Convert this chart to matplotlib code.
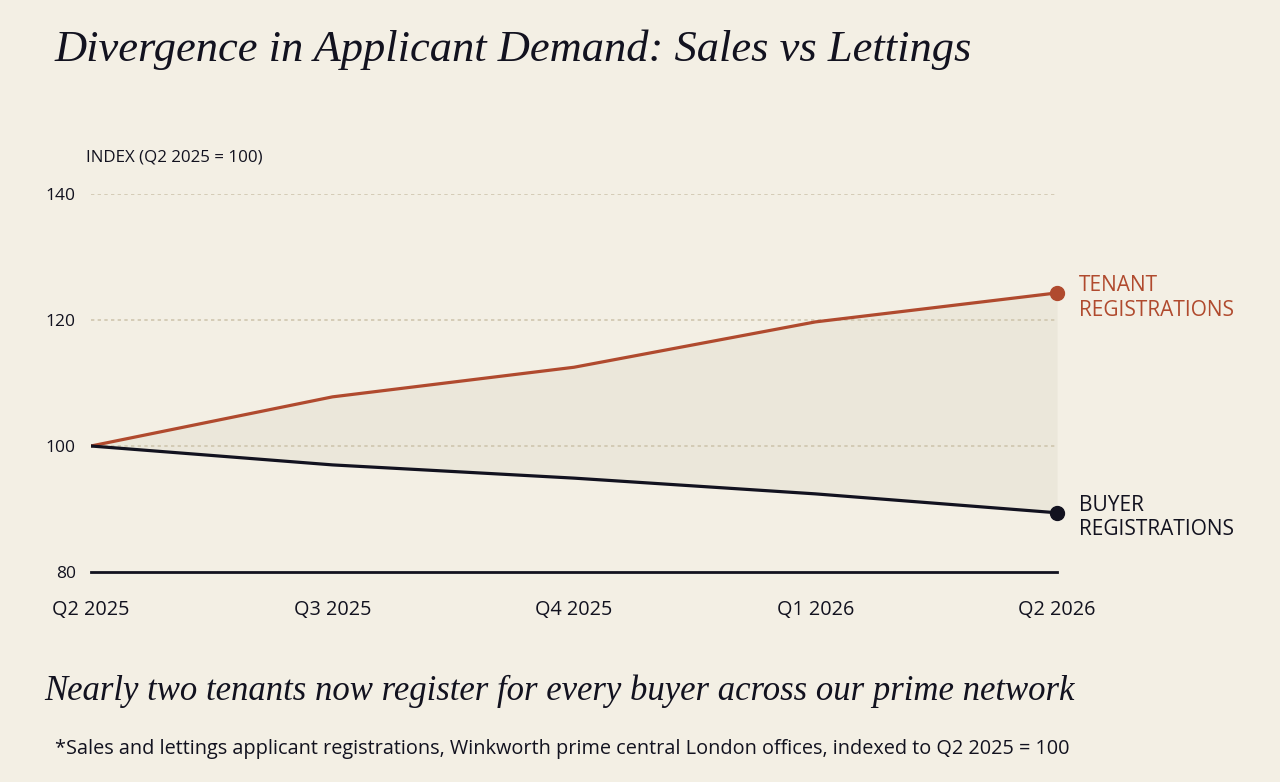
import numpy as np
import matplotlib
matplotlib.use("Agg")
import matplotlib.pyplot as plt

# data
quarters = ["Q2 2025", "Q3 2025", "Q4 2025", "Q1 2026", "Q2 2026"]
tenant = [100.0, 107.8, 112.5, 119.7, 124.3]
buyer = [100.0, 97.0, 94.9, 92.4, 89.4]
yticks = [80, 100, 120, 140]

bg = "#F3EFE4"
fill_col = "#EBE7DA"
red = "#B04A2E"
dark = "#12121F"
grid_col = "#CFC6AE"
sans = ["Open Sans", "DejaVu Sans"]
serif = ["Liberation Serif", "DejaVu Serif"]

W, H = 1280, 782
fig = plt.figure(figsize=(W / 100, H / 100), dpi=100, facecolor=bg)
ax = fig.add_axes([91 / W, (H - 572) / H, 966 / W, 378 / H])
ax.set_facecolor(bg)

x = np.arange(len(quarters))
ax.fill_between(x, buyer, tenant, color=fill_col, lw=0, zorder=1)

for v in yticks[1:]:
    ax.axhline(v, color=grid_col, lw=1.2, ls=(0, (2, 2)), zorder=1.5)
ax.axhline(80, color=dark, lw=2, zorder=2, clip_on=False)

ax.plot(x, tenant, color=red, lw=2.3, zorder=3, solid_capstyle="round")
ax.plot(x, buyer, color=dark, lw=2.3, zorder=3, solid_capstyle="round")
ax.plot(x[-1], tenant[-1], "o", color=red, ms=10, zorder=4, clip_on=False)
ax.plot(x[-1], buyer[-1], "o", color=dark, ms=10, zorder=4, clip_on=False)

ax.set_xlim(0, len(quarters) - 1)
ax.set_ylim(80, 140)
for s in ax.spines.values():
    s.set_visible(False)
ax.set_yticks(yticks)
ax.set_yticklabels([str(v) for v in yticks], family=sans, fontsize=12.5, color=dark)
ax.set_xticks(x)
ax.set_xticklabels(quarters, family=sans, fontsize=14.3, color=dark)
ax.tick_params(length=0)
ax.tick_params(axis="y", pad=11)
ax.tick_params(axis="x", pad=20)

ax.annotate("TENANT\nREGISTRATIONS", (x[-1], tenant[-1]), xytext=(22, -5),
            textcoords="offset pixels", color=red, family=sans, fontsize=15,
            va="center", ha="left", linespacing=1.2)
ax.annotate("BUYER\nREGISTRATIONS", (x[-1], buyer[-1]), xytext=(22, -5),
            textcoords="offset pixels", color=dark, family=sans, fontsize=15,
            va="center", ha="left", linespacing=1.2)

fig.text(86 / W, 1 - 157 / H, "INDEX (Q2 2025 = 100)", family=sans, fontsize=12.2,
         color=dark, va="center", ha="left")

fig.text(54 / W, 1 - 50 / H, "Divergence in Applicant Demand: Sales vs Lettings",
         family=serif, style="italic", fontsize=32, color=dark, va="center", ha="left")
fig.text(44 / W, 1 - 691 / H, "Nearly two tenants now register for every buyer across our prime network",
         family=serif, style="italic", fontsize=25, color=dark, va="center", ha="left")
fig.text(55 / W, 1 - 749 / H,
         "*Sales and lettings applicant registrations, Winkworth prime central London offices, indexed to Q2 2025 = 100",
         family=sans, fontsize=14.3, color=dark, va="center", ha="left")

fig.savefig("out.png", dpi=100, facecolor=bg)
